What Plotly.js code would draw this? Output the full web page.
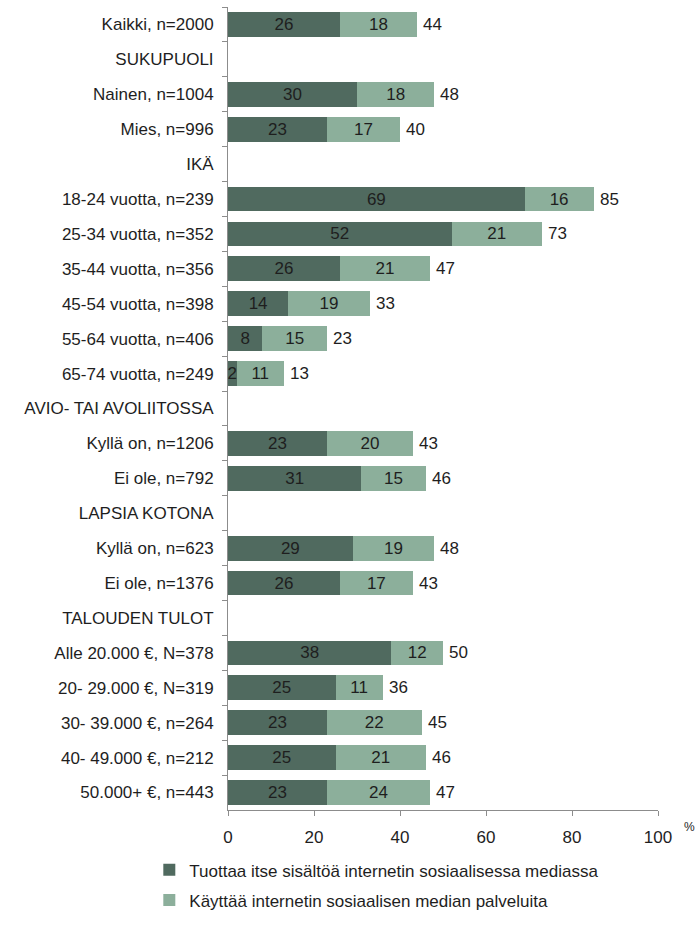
<!DOCTYPE html>
<html>
<head>
<meta charset="utf-8">
<script src="https://cdn.plot.ly/plotly-3.0.1.min.js"></script>
<style>html,body{margin:0;padding:0;background:#fff;}#chart{width:695px;height:925px;}</style>
</head>
<body>
<div id="chart"></div>
<script>
var categories = [
  "Kaikki, n=2000", "SUKUPUOLI", "Nainen, n=1004", "Mies, n=996", "IKÄ",
  "18-24 vuotta, n=239", "25-34 vuotta, n=352", "35-44 vuotta, n=356", "45-54 vuotta, n=398",
  "55-64 vuotta, n=406", "65-74 vuotta, n=249", "AVIO- TAI AVOLIITOSSA",
  "Kyllä on, n=1206", "Ei ole, n=792", "LAPSIA KOTONA", "Kyllä on, n=623", "Ei ole, n=1376",
  "TALOUDEN TULOT", "Alle 20.000 €, N=378", "20- 29.000 €, N=319", "30- 39.000 €, n=264",
  "40- 49.000 €, n=212", "50.000+ €, n=443"
];
var produces = [26, null, 30, 23, null, 69, 52, 26, 14, 8, 2, null, 23, 31, null, 29, 26, null, 38, 25, 23, 25, 23];
var uses =     [18, null, 18, 17, null, 16, 21, 21, 19, 15, 11, null, 20, 15, null, 19, 17, null, 12, 11, 22, 21, 24];
var totals =   [44, null, 48, 40, null, 85, 73, 47, 33, 23, 13, null, 43, 46, null, 48, 43, null, 50, 36, 45, 46, 47];
var seriesNames = ["Tuottaa itse sisältöä internetin sosiaalisessa mediassa", "Käyttää internetin sosiaalisen median palveluita"];
var xTicks = [0, 20, 40, 60, 80, 100];

var font = "Liberation Sans, Arial, sans-serif";
var fs = 17;
var txt = function(a){ return a.map(function(v){ return v === null ? "" : String(v); }); };

var traces = [
  {type: "bar", orientation: "h", name: seriesNames[0], legendgroup: "a", y: categories, x: produces,
   marker: {color: "#506a5f"}, text: txt(produces), textposition: "inside", insidetextanchor: "middle",
   textangle: 0, constraintext: "none", textfont: {family: font, size: fs, color: "#1e1e1e"}, hoverinfo: "none"},
  {type: "bar", orientation: "h", name: seriesNames[1], legendgroup: "b", y: categories, x: uses,
   marker: {color: "#8caf9b"}, text: txt(uses), textposition: "inside", insidetextanchor: "middle",
   textangle: 0, constraintext: "none", textfont: {family: font, size: fs, color: "#1e1e1e"}, hoverinfo: "none"}
];

var annotations = [];
totals.forEach(function(t, i){
  if (t === null) return;
  annotations.push({x: t, y: categories[i], xref: "x", yref: "y", text: String(t), showarrow: false,
                    xanchor: "left", yanchor: "middle", xshift: 4,
                    font: {family: font, size: fs, color: "#1e1e1e"}});
});
annotations.push({xref: "paper", yref: "paper", x: 1.055, y: -0.01, xanchor: "left", yanchor: "top",
                  text: "%", showarrow: false, font: {family: font, size: 12, color: "#1e1e1e"}});

var layout = {
  width: 695, height: 925,
  margin: {l: 228, r: 37, t: 7, b: 102},
  barmode: "stack", bargap: 0.29,
  paper_bgcolor: "#fff", plot_bgcolor: "#fff",
  font: {family: font, size: fs, color: "#1e1e1e"},
  xaxis: {range: [0, 100], tickvals: xTicks, ticktext: xTicks.map(String), showgrid: false, zeroline: false,
          showline: true, linecolor: "#8c8c8c", linewidth: 1, ticks: "outside", ticklen: 5, tickcolor: "#8c8c8c",
          ticklabelstandoff: 7, tickfont: {family: font, size: fs, color: "#1e1e1e"}, fixedrange: true},
  yaxis: {type: "category", categoryorder: "array", categoryarray: categories, autorange: false, range: [22.5, -0.5],
          showgrid: false, zeroline: false, showline: true, linecolor: "#8c8c8c", linewidth: 1,
          ticks: "outside", tickson: "boundaries", ticklen: 5, tickcolor: "#8c8c8c", ticklabelstandoff: 10,
          tickfont: {family: font, size: fs, color: "#1e1e1e"}, fixedrange: true},
  legend: {orientation: "v", traceorder: "grouped", x: -0.183, xanchor: "left", y: -0.0527, yanchor: "top",
           font: {family: font, size: fs, color: "#1e1e1e"}, tracegroupgap: 5, itemwidth: 30},
  annotations: annotations
};

Plotly.newPlot("chart", traces, layout, {staticPlot: true, displayModeBar: false});
</script>
</body>
</html>
